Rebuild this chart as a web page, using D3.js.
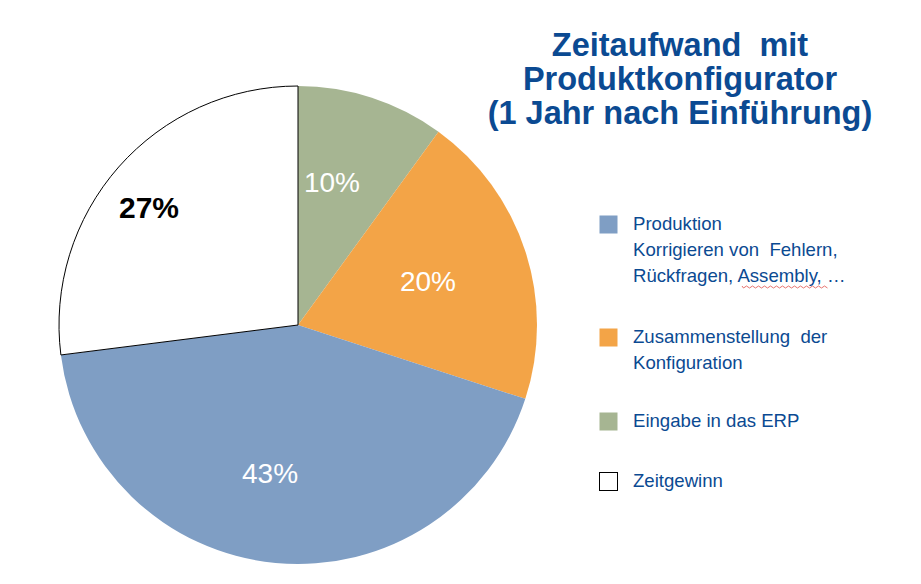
<!DOCTYPE html>
<html><head><meta charset="utf-8">
<script src="https://cdn.jsdelivr.net/npm/d3@7"></script>
<style>body{margin:0;background:#fff}svg{display:block}</style>
</head><body>
<svg id="c" width="921" height="584"></svg>
<script>
const categories = ["Eingabe in das ERP","Zusammenstellung der Konfiguration","Produktion","Zeitgewinn"];
const values = [10,20,43,27];
const labels = ["10%","20%","43%","27%"];
const colors = ["#A6B592","#F3A447","#7F9EC4","#FFFFFF"];
const titleLines = ["Zeitaufwand  mit","Produktkonfigurator","(1 Jahr nach Einführung)"];
const legendItems = [
  {lines:["Produktion","Korrigieren von  Fehlern,","Rückfragen, Assembly, …"], idx:2},
  {lines:["Zusammenstellung  der","Konfiguration"], idx:1},
  {lines:["Eingabe in das ERP"], idx:0},
  {lines:["Zeitgewinn"], idx:3}
];

const svg = d3.select("#c");
const cx = 298, cy = 325, r = 239;
const pie = d3.pie().sort(null).value(d=>d)(values);
const arc = d3.arc().innerRadius(0).outerRadius(r);
const g = svg.append("g").attr("transform",`translate(${cx},${cy})`);
g.selectAll("path").data(pie).join("path")
  .attr("d",arc)
  .attr("fill",(d,i)=>colors[i])
  .attr("stroke",(d,i)=>i===3?"#000":"none")
  .attr("stroke-width",1);

const lblPos = [[34,-133],[130,-34],[-28,158],[-149,-107]];
g.selectAll("text.lbl").data(pie).join("text")
  .attr("class","lbl")
  .attr("x",(d,i)=>lblPos[i][0])
  .attr("y",(d,i)=>lblPos[i][1])
  .attr("text-anchor","middle")
  .attr("font-family","Liberation Sans, Arial, sans-serif")
  .attr("font-size",(d,i)=>i===3?30:28)
  .attr("font-weight",(d,i)=>i===3?"bold":"normal")
  .attr("fill",(d,i)=>i===3?"#000":"#fff")
  .text((d,i)=>labels[i]);

// title
svg.append("g").selectAll("text").data(titleLines).join("text")
  .attr("text-anchor","middle")
  .attr("font-family","Liberation Sans, Arial, sans-serif")
  .attr("font-size",32.5).attr("font-weight","bold").attr("fill","#0B4A92")
  .style("white-space","pre")
  .attr("x",680).attr("y",(d,i)=>56+i*34)
  .text(d=>d);

// legend
const legY = [230,343,427,487];
const lg = svg.append("g");
legendItems.forEach((it,k)=>{
  const y0 = legY[k];
  lg.append("rect").attr("x",599.5).attr("y",y0-14.5).attr("width",18).attr("height",18)
    .attr("fill",colors[it.idx]).attr("stroke",it.idx===3?"#000":"none").attr("stroke-width",1);
  const t = lg.append("text").attr("font-family","Liberation Sans, Arial, sans-serif")
    .attr("font-size",18.6).attr("fill","#0B4A92").style("white-space","pre");
  it.lines.forEach((ln,j)=>{
    t.append("tspan").attr("x",633).attr("y",y0+j*26).text(ln);
  });
});
// spell-check squiggle under "Assembly"
let sq = "M742,286";
for(let x=742;x<828;x+=3){ sq += ` L${x+1.5},${((x-742)/3)%2===0?288:286}`; }
lg.append("path").attr("d",sq).attr("fill","none").attr("stroke","#E0504A").attr("stroke-width",0.8);
</script>
</body></html>
